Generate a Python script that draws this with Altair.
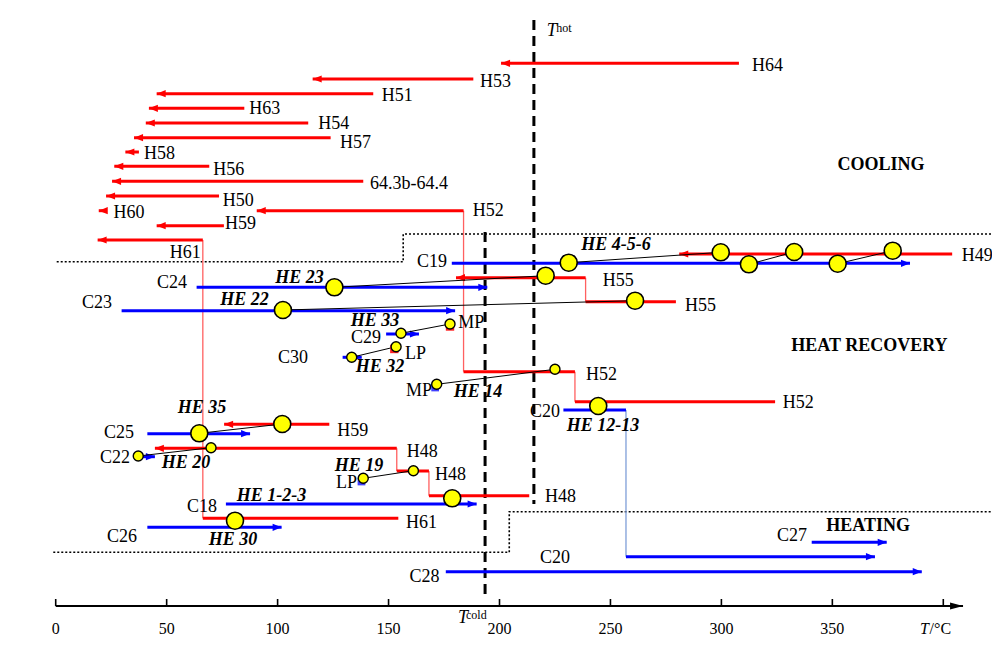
import altair as alt
import pandas as pd

# ---------------- data (temperature in degC, level = vertical row position) ----------------
# hot stream segments: name, T_from, T_to, level
hot_segments = [
    ("H64", 307.9, 200.7, 542.7), ("H53", 188.2, 115.8, 527.0), ("H51", 143.1, 45.5, 512.3),
    ("H63", 85.0, 42.0, 497.7), ("H54", 113.8, 40.6, 483.0), ("H57", 123.9, 35.3, 468.3),
    ("H58", 37.5, 31.4, 454.0), ("H56", 69.2, 26.4, 439.7), ("64.3b-64.4", 138.6, 25.4, 424.7),
    ("H50", 73.6, 22.7, 410.0), ("H60", 22.7, 19.4, 395.3),
    ("H52a", 324.2, 234.0, 204.3), ("H52b", 234.0, 183.8, 234.3), ("H52c", 183.8, 90.6, 395.3),
    ("H59a", 75.8, 45.5, 380.3), ("H61a", 154.4, 66.3, 87.7), ("H61b", 66.3, 18.9, 366.0),
    ("H49", 404.0, 281.0, 352.0), ("H55a", 279.5, 238.8, 304.3), ("H55b", 238.8, 180.4, 328.3),
    ("H59b", 123.3, 75.9, 181.7), ("H48a", 213.4, 168.2, 110.3), ("H48b", 168.2, 153.7, 135.0),
    ("H48c", 153.7, 44.7, 157.7),
]
hot_arrow_names = ["H64", "H53", "H51", "H63", "H54", "H57", "H58", "H56", "64.3b-64.4", "H50",
                   "H60", "H52c", "H59a", "H61b", "H49", "H55b", "H59b", "H48c"]
# hot vertical links: T, level_from, level_to
hot_links = [(234.0, 204.3, 234.3), (183.8, 234.3, 395.3), (66.3, 87.7, 366.0),
             (238.8, 304.3, 328.3), (153.7, 135.0, 157.7), (168.2, 110.3, 135.0)]

# cold stream segments: name, T_from, T_to, level
cold_segments = [
    ("C19", 178.5, 385.0, 342.7), ("C24", 63.5, 194.5, 318.7), ("C23", 29.7, 180.0, 295.3),
    ("C29", 148.9, 163.7, 272.0), ("C30", 129.3, 137.9, 248.7), ("C22", 37.5, 44.7, 149.3),
    ("C25", 41.3, 87.6, 172.3), ("C18", 76.7, 189.7, 102.0), ("C26", 41.3, 101.8, 78.7),
    ("C27", 340.7, 374.5, 63.7), ("C28", 175.8, 390.3, 34.3), ("C20a", 228.8, 257.0, 196.0),
    ("C20b", 257.0, 369.2, 49.3),
]
cold_arrow_names = ["C19", "C24", "C23", "C29", "C30", "C22", "C25", "C18", "C26", "C27", "C28", "C20b"]
cold_links = [(257.0, 196.0, 49.3)]

# heat exchangers (big / small circles): T, level
big_he = [(231.2, 343.3), (299.7, 353.7), (312.4, 341.7), (332.8, 354.0), (352.4, 342.3),
          (377.2, 355.3), (220.8, 330.3), (261.1, 305.3), (125.6, 318.7), (102.4, 296.0),
          (244.5, 200.0), (102.1, 182.0), (64.7, 172.7), (178.7, 107.7), (80.8, 85.3)]
small_he = [(155.6, 272.7), (177.7, 282.0), (133.4, 248.7), (153.4, 259.3), (171.7, 221.7),
            (225.0, 236.7), (37.2, 150.0), (70.0, 158.3), (138.6, 127.7), (161.2, 135.3)]
# connections between matched streams: T1, L1, T2, L2
he_links = [(231.2, 343.3, 299.7, 353.7), (312.4, 341.7, 332.8, 354.0), (352.4, 342.3, 377.2, 355.3),
            (125.6, 318.7, 220.8, 330.3), (102.4, 296.0, 261.1, 305.3), (155.6, 272.7, 177.7, 282.0),
            (133.4, 248.7, 153.4, 259.3), (171.7, 221.7, 225.0, 236.7), (64.7, 172.7, 102.1, 182.0),
            (37.2, 150.0, 70.0, 158.3), (138.6, 127.7, 161.2, 135.3)]
# pressure level markers (small squares)
red_markers = [(177.7, 279.5), (152.6, 257.0)]
blue_markers = [(171.0, 218.5), (137.8, 124.5)]

# region boundaries (polylines)
boundaries = {
    "cool": [(0.45, 344.3), (156.6, 344.3), (156.6, 372.0), (422.0, 372.0)],
    "heat": [(-1.1, 53.7), (204.4, 53.7), (204.4, 94.3), (422.0, 94.3)],
}
# pinch temperatures: T, level_from, level_to
t_hot = (215.5, 586.0, 102.0)
t_cold = (193.5, 374.0, 8.0)

# labels
labels_left = [
    ("H64", 313.8, 540.0), ("H53", 191.2, 524.0), ("H51", 146.9, 510.3), ("H63", 87.2, 496.7),
    ("H54", 118.3, 482.0), ("H57", 128.1, 462.7), ("H58", 39.8, 452.0), ("H56", 71.0, 436.0),
    ("64.3b-64.4", 141.6, 421.7), ("H50", 75.3, 405.0), ("H60", 26.0, 392.7), ("H52", 187.9, 395.3),
    ("H59", 76.3, 382.0), ("H61", 157.9, 82.7), ("H49", 408.3, 350.0), ("H55", 246.5, 325.0),
    ("H55", 283.6, 300.0), ("H52", 239.0, 231.0), ("H52", 327.6, 203.3), ("H59", 126.9, 175.3),
    ("H48", 158.2, 154.3), ("H48", 170.9, 131.0), ("H48", 220.5, 109.3), ("MP", 181.4, 282.7),
    ("LP", 157.4, 252.0),
]
labels_right = [
    ("C19", 176.3, 343.7), ("C24", 59.2, 322.7), ("C23", 25.4, 302.7), ("C29", 146.6, 267.7),
    ("C22", 33.5, 147.7), ("C25", 35.3, 172.7), ("C18", 72.7, 99.3), ("C26", 36.6, 69.3),
    ("C27", 338.6, 70.0), ("C28", 173.0, 29.3), ("C20", 227.3, 194.0), ("MP", 169.6, 215.0),
    ("LP", 135.8, 123.3),
]
labels_center = [("H61", 58.4, 353.3), ("C20", 225.0, 47.7), ("C30", 106.9, 247.7)]
he_labels = [
    ("HE 4-5-6", 252.5, 361.0), ("HE 23", 109.9, 327.7), ("HE 22", 85.1, 306.0),
    ("HE 33", 143.9, 285.3), ("HE 32", 146.1, 238.7), ("HE 14", 190.3, 213.7),
    ("HE 12-13", 246.6, 180.3), ("HE 35", 65.9, 197.7), ("HE 20", 58.7, 142.7),
    ("HE 19", 136.7, 140.0), ("HE 1-2-3", 97.3, 110.0), ("HE 30", 79.9, 66.0),
]
region_labels = [("COOLING", 371.9, 441.0), ("HEAT RECOVERY", 366.7, 260.3), ("HEATING", 366.1, 80.0)]

axis_ticks = [0, 50, 100, 150, 200, 250, 300, 350, 400]
axis_tick_labels = ["0", "50", "100", "150", "200", "250", "300", "350"]
axis_end = 408.9

# ---------------- build ----------------
xs = alt.Scale(domain=[-21.5, 421.95], nice=False, zero=False)
ys = alt.Scale(domain=[-33, 598], nice=False, zero=False)
SERIF = "Liberation Serif"


def X(f="t"):
    return alt.X(f"{f}:Q", scale=xs, axis=None)


def Y(f="l"):
    return alt.Y(f"{f}:Q", scale=ys, axis=None)


def X2(f):
    return alt.X2(f"{f}:Q")


def Y2(f):
    return alt.Y2(f"{f}:Q")


def hseg_df(segs):
    return pd.DataFrame([{"t": a, "t2": b, "l": l} for _, a, b, l in segs])


def vlink_df(links):
    return pd.DataFrame([{"t": t, "l": a, "l2": b} for t, a, b in links])


def pts_df(pts):
    return pd.DataFrame([{"t": t, "l": l} for t, l in pts])


def lab_df(labs):
    return pd.DataFrame([{"txt": s, "t": t, "l": l} for s, t, l in labs])


hot_map = {n: (a, b, l) for n, a, b, l in hot_segments}
cold_map = {n: (a, b, l) for n, a, b, l in cold_segments}
hot_tips = pd.DataFrame([{"t": hot_map[n][1], "l": hot_map[n][2]} for n in hot_arrow_names])
cold_tips = pd.DataFrame([{"t": cold_map[n][1], "l": cold_map[n][2]} for n in cold_arrow_names])

bnd_rows = []
for g, pts in boundaries.items():
    for i, (t, l) in enumerate(pts):
        bnd_rows.append({"g": g, "o": i, "t": t, "l": l})
bnd_df = pd.DataFrame(bnd_rows)

pinch_df = pd.DataFrame([{"t": t_hot[0], "l": t_hot[1], "l2": t_hot[2]},
                         {"t": t_cold[0], "l": t_cold[1], "l2": t_cold[2]}])

layers = []
layers.append(alt.Chart(bnd_df).mark_line(color="black", strokeWidth=1.6, strokeDash=[2, 2]).encode(
    x=X(), y=Y(), detail="g:N", order="o:Q"))
layers.append(alt.Chart(pinch_df).mark_rule(color="black", strokeWidth=3, strokeDash=[10, 6]).encode(
    x=X(), y=Y(), y2=Y2("l2")))
layers.append(alt.Chart(vlink_df(hot_links)).mark_rule(color="#ff6060", strokeWidth=1.3).encode(
    x=X(), y=Y(), y2=Y2("l2")))
layers.append(alt.Chart(vlink_df(cold_links)).mark_rule(color="#7f9fd8", strokeWidth=1.3).encode(
    x=X(), y=Y(), y2=Y2("l2")))
layers.append(alt.Chart(hseg_df(hot_segments)).mark_rule(color="#ff0000", strokeWidth=3).encode(
    x=X(), x2=X2("t2"), y=Y()))
layers.append(alt.Chart(hseg_df(cold_segments)).mark_rule(color="#0000ff", strokeWidth=3).encode(
    x=X(), x2=X2("t2"), y=Y()))
layers.append(alt.Chart(hot_tips).mark_point(shape="M0,0L2,-0.8L2,0.8Z", size=81, filled=True,
                                              color="#ff0000", opacity=1, strokeWidth=0).encode(x=X(), y=Y()))
layers.append(alt.Chart(cold_tips).mark_point(shape="M0,0L-2,-0.8L-2,0.8Z", size=81, filled=True,
                                               color="#0000ff", opacity=1, strokeWidth=0).encode(x=X(), y=Y()))
links_df = pd.DataFrame([{"t": a, "l": b, "t2": c, "l2": d} for a, b, c, d in he_links])
layers.append(alt.Chart(links_df).mark_rule(color="black", strokeWidth=1).encode(
    x=X(), y=Y(), x2=X2("t2"), y2=Y2("l2")))
layers.append(alt.Chart(pts_df(red_markers)).mark_point(shape="square", size=70, filled=True,
                                                        color="#ff2020", opacity=1).encode(x=X(), y=Y()))
layers.append(alt.Chart(pts_df(blue_markers)).mark_point(shape="square", size=60, filled=True,
                                                         color="#4040ff", opacity=1).encode(x=X(), y=Y()))
layers.append(alt.Chart(pts_df(big_he)).mark_point(shape="circle", size=289, filled=True, fill="#ffff00",
                                                   stroke="black", strokeWidth=1.6, opacity=1).encode(x=X(), y=Y()))
layers.append(alt.Chart(pts_df(small_he)).mark_point(shape="circle", size=100, filled=True, fill="#ffff00",
                                                     stroke="black", strokeWidth=1.4, opacity=1).encode(x=X(), y=Y()))

txt = dict(font=SERIF, fontSize=18, color="black", baseline="middle")
layers.append(alt.Chart(lab_df(labels_left)).mark_text(align="left", **txt).encode(x=X(), y=Y(), text="txt:N"))
layers.append(alt.Chart(lab_df(labels_right)).mark_text(align="right", **txt).encode(x=X(), y=Y(), text="txt:N"))
layers.append(alt.Chart(lab_df(labels_center)).mark_text(align="center", **txt).encode(x=X(), y=Y(), text="txt:N"))
layers.append(alt.Chart(lab_df(he_labels)).mark_text(align="center", fontWeight="bold", fontStyle="italic",
                                                     **txt).encode(x=X(), y=Y(), text="txt:N"))
layers.append(alt.Chart(lab_df(region_labels)).mark_text(align="center", fontWeight="bold",
                                                         **txt).encode(x=X(), y=Y(), text="txt:N"))

# pinch labels
sup = [("T", 221.3, 575.0, "T"), ("hot", 225.6, 578.5, "s"), ("T", 181.3, -12.0, "T"), ("cold", 184.9, -8.5, "s")]
sup_T = pd.DataFrame([{"txt": a, "t": b, "l": c} for a, b, c, k in sup if k == "T"])
sup_s = pd.DataFrame([{"txt": a, "t": b, "l": c} for a, b, c, k in sup if k == "s"])
layers.append(alt.Chart(sup_T).mark_text(align="left", baseline="middle", font=SERIF, fontSize=18,
                                         fontStyle="italic", color="black").encode(x=X(), y=Y(), text="txt:N"))
layers.append(alt.Chart(sup_s).mark_text(align="left", baseline="middle", font=SERIF, fontSize=12,
                                         color="black").encode(x=X(), y=Y(), text="txt:N"))

# axis
axis_line = pd.DataFrame([{"t": 0, "t2": axis_end, "l": 0}])
layers.append(alt.Chart(axis_line).mark_rule(color="black", strokeWidth=2).encode(x=X(), x2=X2("t2"), y=Y()))
layers.append(alt.Chart(pd.DataFrame([{"t": axis_end, "l": 0}])).mark_point(
    shape="M0,0L-2,-0.55L-2,0.55Z", size=169, filled=True, color="black", opacity=1, strokeWidth=0
).encode(x=X(), y=Y()))
ticks_df = pd.DataFrame([{"t": v, "l": 0, "l2": 7} for v in axis_ticks])
layers.append(alt.Chart(ticks_df).mark_rule(color="black", strokeWidth=1.6).encode(x=X(), y=Y(), y2=Y2("l2")))
tl_df = pd.DataFrame([{"txt": s, "t": v, "l": -23} for s, v in zip(axis_tick_labels, axis_ticks)])
layers.append(alt.Chart(tl_df).mark_text(align="center", baseline="middle", font=SERIF, fontSize=16,
                                         color="black").encode(x=X(), y=Y(), text="txt:N"))
unit_T = pd.DataFrame([{"txt": "T", "t": 389.5, "l": -23}])
unit_C = pd.DataFrame([{"txt": "/°C", "t": 393.8, "l": -23}])
layers.append(alt.Chart(unit_T).mark_text(align="left", baseline="middle", font=SERIF, fontSize=16,
                                          fontStyle="italic", color="black").encode(x=X(), y=Y(), text="txt:N"))
layers.append(alt.Chart(unit_C).mark_text(align="left", baseline="middle", font=SERIF, fontSize=16,
                                          color="black").encode(x=X(), y=Y(), text="txt:N"))

chart = alt.layer(*layers).properties(
    width=984, height=631, padding=0, background="white",
    autosize=alt.AutoSizeParams(type="none"),
).configure_view(stroke=None)

chart.save("out.html", embed_options={"renderer": "svg", "actions": False})
